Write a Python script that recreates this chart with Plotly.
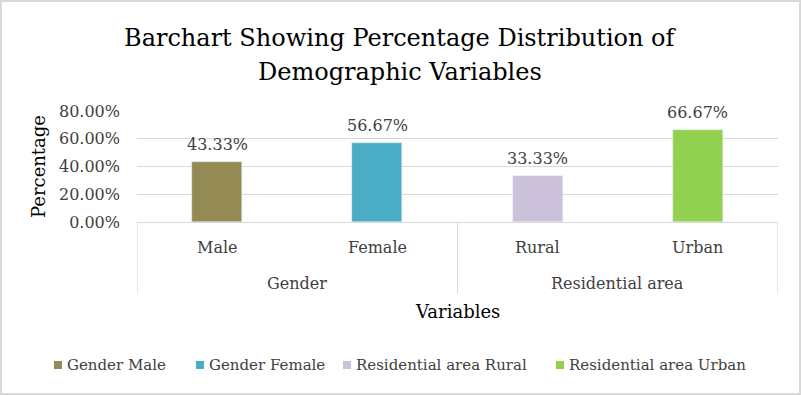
import plotly.graph_objects as go

categories = ["Male", "Female", "Rural", "Urban"]
groups = ["Gender", "Gender", "Residential area", "Residential area"]
values = [0.4333, 0.5667, 0.3333, 0.6667]
labels = ["43.33%", "56.67%", "33.33%", "66.67%"]
series_names = ["Gender Male", "Gender Female", "Residential area Rural", "Residential area Urban"]
colors = ["#948A54", "#4BACC6", "#CCC1DA", "#92D050"]
y_ticks = [0, 0.2, 0.4, 0.6, 0.8]
y_tick_labels = ["0.00%", "20.00%", "40.00%", "60.00%", "80.00%"]

FONT = "DejaVu Serif"
TXT = "#404040"
W, H = 801, 395
ML, MR, MT, MB = 137, 23, 111, 173
PW, PH = W - ML - MR, H - MT - MB

def px_x(p):
    return (p - ML) / PW

def px_y(p):
    return (H - MB - p) / PH

fig = go.Figure()
for i, (v, name, col) in enumerate(zip(values, series_names, colors)):
    fig.add_trace(go.Bar(
        x=[i], y=[v], name=name, marker_color=col, width=0.3125,
        showlegend=False, hoverinfo="skip",
    ))

# value labels
for i, (v, lab) in enumerate(zip(values, labels)):
    fig.add_annotation(x=i, y=v, xref="x", yref="y", yanchor="bottom", yshift=6,
                       text=lab, showarrow=False,
                       font=dict(family=FONT, size=16, color=TXT))

# category labels
for i, cat in enumerate(categories):
    fig.add_annotation(x=i, y=0, xref="x", yref="paper", yanchor="middle", yshift=-25,
                       text=cat, showarrow=False, font=dict(family=FONT, size=16, color=TXT))

# group labels
group_names = []
for g in groups:
    if g not in group_names:
        group_names.append(g)
for g in group_names:
    idx = [i for i, gg in enumerate(groups) if gg == g]
    cx = (idx[0] + idx[-1]) / 2
    fig.add_annotation(x=cx, y=0, xref="x", yref="paper", yanchor="middle", yshift=-61,
                       text=g, showarrow=False, font=dict(family=FONT, size=16, color=TXT))

# divider lines of the category axis
bounds = [-0.5, 1.5, 3.5]
for b in bounds:
    fig.add_shape(type="line", x0=b, x1=b, xref="x", y0=0, y1=px_y(294), yref="paper",
                  line=dict(color="#D9D9D9", width=1))

# axis title
fig.add_annotation(x=0.5, y=0, xref="paper", yref="paper", yanchor="middle", yshift=-89,
                   text="Variables", showarrow=False,
                   font=dict(family=FONT, size=18, color="#000000"))

# title
fig.add_annotation(x=px_x(400), y=px_y(38), xref="paper", yref="paper", yanchor="middle",
                   text="Barchart Showing Percentage Distribution of", showarrow=False,
                   font=dict(family=FONT, size=24, color="#000000"))
fig.add_annotation(x=px_x(400), y=px_y(72), xref="paper", yref="paper", yanchor="middle",
                   text="Demographic Variables", showarrow=False,
                   font=dict(family=FONT, size=24, color="#000000"))

# legend (custom, Excel style)
legend_sq_left = [54, 196, 343, 556]
for name, col, lx in zip(series_names, colors, legend_sq_left):
    fig.add_shape(type="rect", xref="paper", yref="paper",
                  x0=px_x(lx), x1=px_x(lx + 8), y0=px_y(369), y1=px_y(361),
                  fillcolor=col, line=dict(width=0))
    fig.add_annotation(x=px_x(lx + 11), y=px_y(365), xref="paper", yref="paper",
                       xanchor="left", yanchor="middle", text=name, showarrow=False,
                       font=dict(family=FONT, size=15, color=TXT))

# outer border
fig.add_shape(type="rect", xref="paper", yref="paper", x0=px_x(1), x1=px_x(W - 1),
              y0=px_y(H - 1), y1=px_y(1), line=dict(color="#D9D9D9", width=2))

fig.update_layout(
    width=W, height=H,
    margin=dict(l=ML, r=MR, t=MT, b=MB, autoexpand=False),
    paper_bgcolor="white", plot_bgcolor="white",
    showlegend=False,
    bargap=0,
    xaxis=dict(range=[-0.5, 3.5], showticklabels=False, showgrid=False, zeroline=False,
               showline=True, linecolor="#D9D9D9", fixedrange=True, automargin=False),
    yaxis=dict(range=[0, 0.8], tickvals=y_ticks, ticktext=y_tick_labels,
               showgrid=True, gridcolor="#D9D9D9", zeroline=False, automargin=False,
               tickfont=dict(family=FONT, size=16, color=TXT), ticks="", ticklabelstandoff=16,
               title=dict(text="Percentage", font=dict(family=FONT, size=18, color="#000000"),
                          standoff=8)),
)

fig.write_html("out.html", config={"displayModeBar": False},
               post_script="document.body.style.margin='0';")
